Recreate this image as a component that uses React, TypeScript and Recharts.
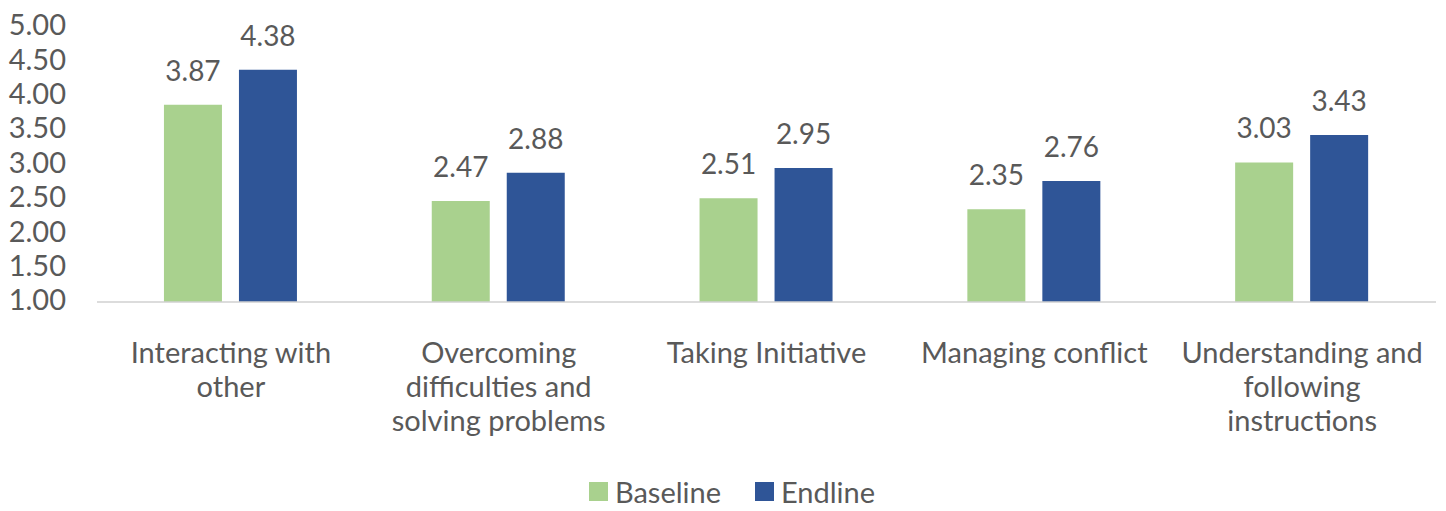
import React from "react";
import { BarChart, Bar, XAxis, YAxis, Legend, LabelList } from "recharts";

const categories = [
  "Interacting with other",
  "Overcoming difficulties and solving problems",
  "Taking Initiative",
  "Managing conflict",
  "Understanding and following instructions",
];
const baseline = [3.87, 2.47, 2.51, 2.35, 3.03];
const endline = [4.38, 2.88, 2.95, 2.76, 3.43];
const yTicks = [1, 1.5, 2, 2.5, 3, 3.5, 4, 4.5, 5];

const TEXT = "#595959";
const FONT = "Lato, 'Open Sans', sans-serif";
const GREEN = "#A9D18E";
const BLUE = "#2F5597";

const data = categories.map((name, i) => ({
  name,
  Baseline: baseline[i],
  Endline: endline[i],
}));

// split a label into lines of at most maxChars
const wrap = (text: string, maxChars = 18) => {
  const lines: string[] = [];
  let cur = "";
  text.split(" ").forEach((w) => {
    const next = cur ? cur + " " + w : w;
    if (next.length > maxChars && cur) {
      lines.push(cur);
      cur = w;
    } else {
      cur = next;
    }
  });
  if (cur) lines.push(cur);
  return lines;
};

const CategoryTick = (props: any) => {
  const { x, y, payload } = props;
  const lines = wrap(payload.value);
  return (
    <g transform={`translate(${x},${y})`}>
      {lines.map((l, i) => (
        <text
          key={i}
          x={0}
          y={i * 34 + 53}
          textAnchor="middle"
          fill={TEXT}
          fontSize={29}
          fontFamily={FONT}
        >
          {l}
        </text>
      ))}
    </g>
  );
};

const LegendContent = () => (
  <div
    style={{
      height: 36,
      lineHeight: 1,
      display: "flex",
      justifyContent: "center",
      alignItems: "center",
      transform: "translate(14px, -2px)",
      fontFamily: FONT,
      fontSize: 29,
      color: TEXT,
    }}
  >
    {[
      ["Baseline", GREEN],
      ["Endline", BLUE],
    ].map(([name, color], i) => (
      <span
        key={name}
        style={{ display: "flex", alignItems: "center", marginLeft: i ? 34 : 0 }}
      >
        <span style={{ width: 19, height: 19, background: color, marginRight: 7 }} />
        {name}
      </span>
    ))}
  </div>
);

const App: React.FC = () => {
  return (
    <div style={{ margin: -8, width: 1446, height: 511, background: "#fff" }}>
      <BarChart
        width={1446}
        height={511}
        data={data}
        margin={{ top: 27, right: 10, left: 0, bottom: 0 }}
        barCategoryGap="25%"
        barGap={17}
      >
        <XAxis
          dataKey="name"
          tick={<CategoryTick />}
          tickLine={false}
          axisLine={{ stroke: "#d0d0d0", strokeWidth: 1.5 }}
          interval={0}
          height={173}
        />
        <YAxis
          domain={[1, 5]}
          ticks={yTicks}
          tickFormatter={(v: number) => v.toFixed(2)}
          axisLine={false}
          tickLine={false}
          tickSize={0}
          tickMargin={31}
          width={97}
          tick={{ fill: TEXT, fontSize: 29, fontFamily: FONT, dy: -2 }}
          interval={0}
        />
        <Legend verticalAlign="bottom" content={<LegendContent />} />
        <Bar dataKey="Baseline" fill={GREEN} isAnimationActive={false}>
          <LabelList
            dataKey="Baseline"
            position="top"
            offset={24}
            formatter={(v: any) => Number(v).toFixed(2)}
            style={{ fill: TEXT, fontSize: 28, fontFamily: FONT }}
          />
        </Bar>
        <Bar dataKey="Endline" fill={BLUE} isAnimationActive={false}>
          <LabelList
            dataKey="Endline"
            position="top"
            offset={24}
            formatter={(v: any) => Number(v).toFixed(2)}
            style={{ fill: TEXT, fontSize: 28, fontFamily: FONT }}
          />
        </Bar>
      </BarChart>
    </div>
  );
};

export default App;
